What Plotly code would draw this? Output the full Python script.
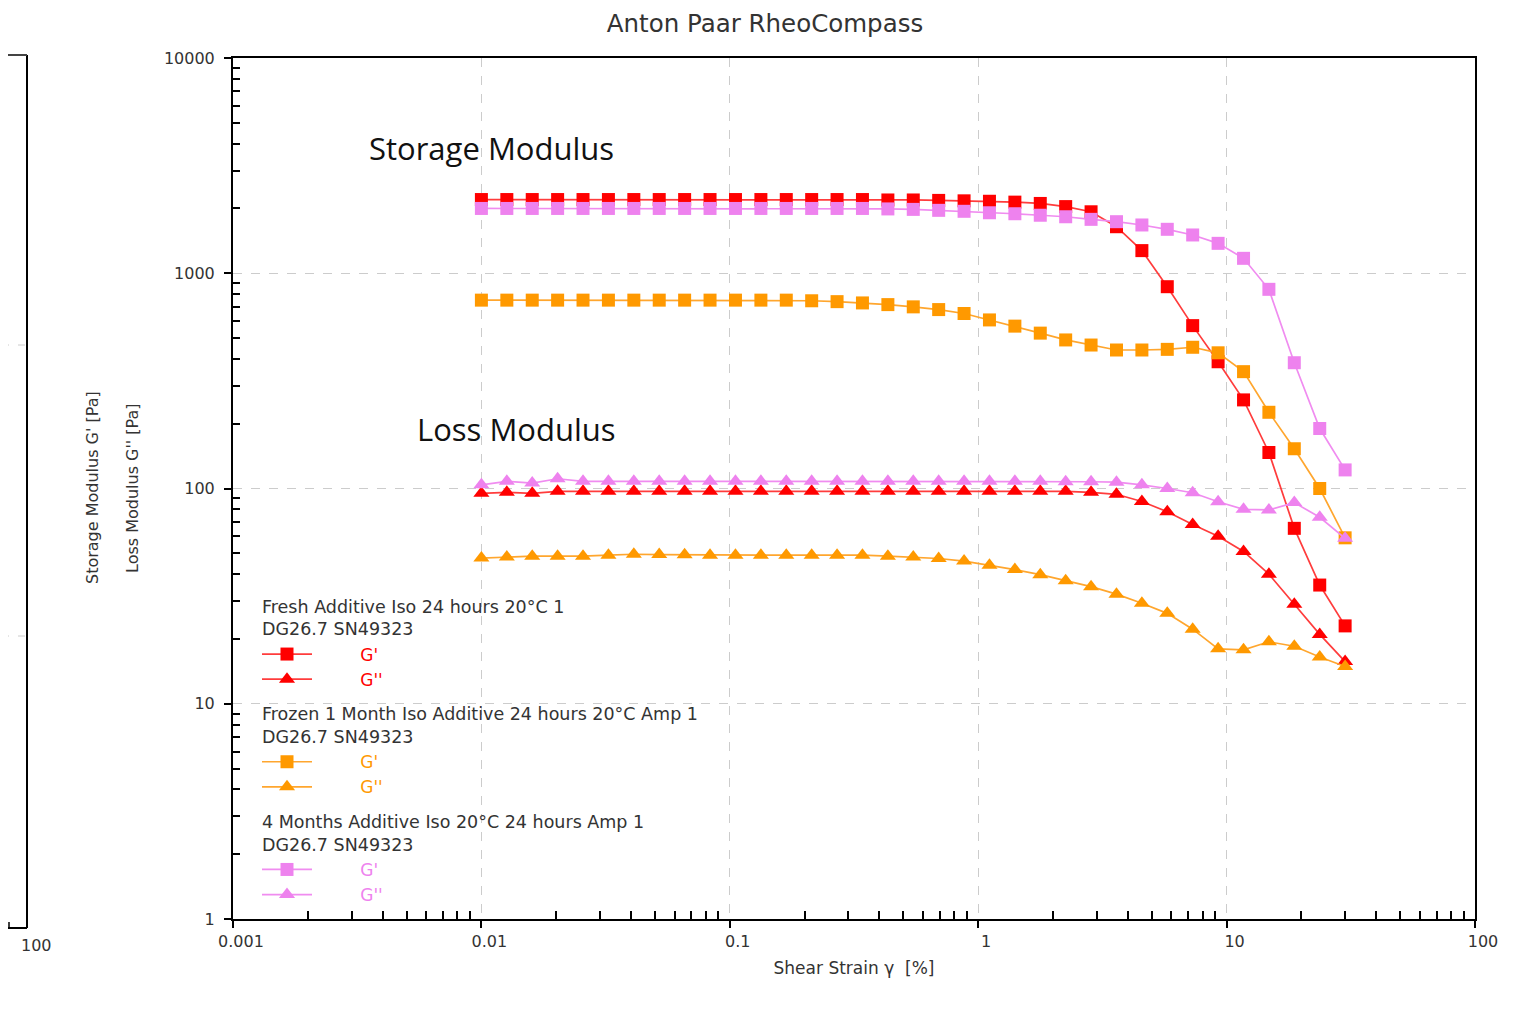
import plotly.graph_objects as go

# ---------------- data ----------------
strain = [0.01, 0.01266, 0.01602, 0.02027, 0.02565, 0.03246, 0.04108, 0.05199, 0.06579, 0.08326,
          0.1054, 0.1334, 0.1688, 0.2136, 0.2703, 0.342, 0.4329, 0.5478, 0.6932, 0.8772,
          1.11, 1.405, 1.778, 2.25, 2.847, 3.603, 4.56, 5.77, 7.302, 9.243,
          11.7, 14.8, 18.73, 23.71, 30.0]

fresh_gp = [2200, 2200, 2200, 2200, 2200, 2200, 2200, 2200, 2200, 2200,
            2200, 2200, 2200, 2200, 2200, 2200, 2190, 2190, 2180, 2170,
            2160, 2140, 2110, 2040, 1930, 1645, 1274, 866, 571, 388,
            258, 147, 65.3, 35.6, 23.0]
fresh_gpp = [95, 96, 95, 97, 97, 97, 97, 97, 97, 97,
             97, 97, 97, 97, 97, 97, 97, 97, 97, 97,
             97, 97, 97, 97, 96, 94, 87, 78, 68, 60,
             51, 40, 29, 21, 15.7]

frozen_gp = [750, 750, 750, 750, 750, 750, 750, 750, 750, 750,
             750, 750, 750, 745, 738, 728, 715, 698, 678, 650,
             607, 568, 527, 490, 464, 440, 440, 443, 453, 427,
             349, 226, 153, 100, 59]
frozen_gpp = [47.5, 48, 48.5, 48.5, 48.5, 49, 49.5, 49.3, 49.2, 49,
              49, 49, 49, 49, 49, 49, 48.5, 48, 47.3, 46,
              44, 42, 39.8, 37.3, 35.0, 32.3, 29.3, 26.3, 22.2, 18.0,
              17.8, 19.4, 18.5, 16.5, 14.9]

m4_gp = [2000, 2000, 2000, 2000, 2000, 2000, 2000, 2000, 2000, 2000,
         2000, 2000, 2000, 2000, 2000, 2000, 1990, 1980, 1960, 1940,
         1910, 1890, 1860, 1830, 1780, 1736, 1676, 1600, 1506, 1377,
         1173, 842, 384, 190, 122]
m4_gpp = [104, 108, 106, 111, 108, 108, 108, 108, 108, 108,
          108, 108, 108, 108, 108, 108, 108, 108, 108, 108,
          108, 108, 108, 107.5, 107.5, 107, 104, 100, 95.6, 86.8,
          80, 79.5, 86, 73.5, 58.7]

groups = [
    ("Fresh Additive Iso 24 hours 20°C 1", "#FF0000", "#FF3C3C", fresh_gp, fresh_gpp),
    ("Frozen 1 Month Iso Additive 24 hours 20°C Amp 1", "#FF9900", "#FFA62E", frozen_gp, frozen_gpp),
    ("4 Months Additive Iso 20°C 24 hours Amp 1", "#EE82EE", "#F08CF0", m4_gp, m4_gpp),
]
device = "DG26.7 SN49323"

x_ticks = [0.001, 0.01, 0.1, 1, 10, 100]
x_ticktext = ["0.001", "0.01", "0.1", "1", "10", "100"]
y_ticks = [1, 10, 100, 1000, 10000]
y_ticktext = ["1", "10", "100", "1000", "10000"]

FONT = "DejaVu Sans"
TXT = "#333333"

fig = go.Figure()
pad = "\u00a0" * 8
for i, (name, col, lcol, gp, gpp) in enumerate(groups):
    for j, (vals, sym, lab) in enumerate([(gp, "square", "G'"), (gpp, "triangle-up", "G''")]):
        fig.add_trace(go.Scatter(
            x=strain, y=vals, mode="lines+markers",
            line=dict(color=lcol, width=1.7),
            marker=dict(symbol=sym, size=13 if sym == "square" else 14, color=col, line=dict(width=0)),
            name=pad + f"<span style='color:{col}'>{lab}</span>",
            legendgroup=f"g{i}",
            legendgrouptitle=dict(text=f"{name}<br>{device}",
                                  font=dict(family=FONT, size=17.5, color=TXT)) if j == 0 else None,
            hoverinfo="x+y",
        ))

minor_x = [m * 10 ** e for e in range(-3, 2) for m in range(2, 10)]
minor_y = [m * 10 ** e for e in range(0, 4) for m in range(2, 10)]

axis_common = dict(
    showline=True, linewidth=2, linecolor="black", mirror=True,
    showgrid=True, gridcolor="#cccccc", griddash="dash", gridwidth=1,
    ticks="outside", ticklen=7, tickwidth=1.5, tickcolor="black",
    tickfont=dict(family=FONT, size=16, color=TXT),
    zeroline=False,
)

fig.update_xaxes(type="log", range=[-3, 2], tickmode="array", tickvals=x_ticks, ticktext=x_ticktext,
                 ticklabelshift=8, ticklabelstandoff=0,
                 minor=dict(tickmode="array", tickvals=minor_x, ticks="inside", ticklen=8,
                            tickwidth=1.5, tickcolor="black", showgrid=False),
                 title=dict(text="Shear Strain γ  [%]", font=dict(family=FONT, size=17, color=TXT), standoff=12),
                 **axis_common)
fig.update_yaxes(type="log", range=[0, 4], tickmode="array", tickvals=y_ticks, ticktext=y_ticktext,
                 ticklabelstandoff=6,
                 minor=dict(tickmode="array", tickvals=minor_y, ticks="inside", ticklen=7,
                            tickwidth=1.5, tickcolor="black", showgrid=False),
                 **axis_common)

# page body has an 8px margin; work in page pixel coordinates
OFF = 8
W, H = 1514, 1002
L, T = 233 - OFF, 58 - OFF
R = W - (1475 - OFF)
B = H - (919 - OFF)
pw, ph = W - L - R, H - T - B


def px(xp):
    return (xp - OFF - L) / pw


def py(yp):
    return (H - B - (yp - OFF)) / ph


annotations = [
    dict(text="Storage Modulus", x=px(367), y=py(148), xanchor="left", yanchor="middle",
         font=dict(family="Open Sans", size=31, color="#111111")),
    dict(text="Loss Modulus", x=px(415), y=py(429), xanchor="left", yanchor="middle",
         font=dict(family="Open Sans", size=31, color="#111111")),
    dict(text="Storage Modulus G' [Pa]", x=px(92), y=py(488), textangle=-90, xanchor="center", yanchor="middle",
         font=dict(family=FONT, size=16, color=TXT)),
    dict(text="Loss Modulus G'' [Pa]", x=px(132), y=py(488), textangle=-90, xanchor="center", yanchor="middle",
         font=dict(family=FONT, size=16, color=TXT)),
    dict(text="100", x=px(36), y=py(945), xanchor="center", yanchor="middle",
         font=dict(family=FONT, size=16, color=TXT)),
]
for a in annotations:
    a.update(xref="paper", yref="paper", showarrow=False)

shapes = [
    dict(type="line", x0=px(27), x1=px(27), y0=py(55), y1=py(928), line=dict(color="black", width=2)),
    dict(type="line", x0=px(0), x1=px(27), y0=py(55), y1=py(55), line=dict(color="#444", width=2)),
    dict(type="line", x0=px(0), x1=px(27), y0=py(928), y1=py(928), line=dict(color="black", width=2)),
    dict(type="line", x0=px(0), x1=px(25), y0=py(345), y1=py(345), line=dict(color="#cccccc", width=1, dash="dash")),
    dict(type="line", x0=px(0), x1=px(25), y0=py(636), y1=py(636), line=dict(color="#cccccc", width=1, dash="dash")),
    dict(type="line", x0=px(9), x1=px(9), y0=py(928), y1=py(922), line=dict(color="black", width=1.5)),
]
for s in shapes:
    s.update(xref="paper", yref="paper")

fig.update_layout(
    width=W, height=H,
    margin=dict(l=L, r=R, t=T, b=B),
    paper_bgcolor="white", plot_bgcolor="white",
    title=dict(text="Anton Paar RheoCompass", x=(765 - OFF) / W, xanchor="center", xref="container",
               y=1 - (23 - OFF) / H, yanchor="middle",
               font=dict(family=FONT, size=24.5, color=TXT)),
    legend=dict(x=px(257), y=py(588), xanchor="left", yanchor="top",
                bgcolor="rgba(0,0,0,0)", borderwidth=0, itemwidth=50,
                font=dict(family=FONT, size=17, color=TXT), tracegroupgap=9),
    annotations=annotations, shapes=shapes,
    showlegend=True,
)

fig.write_html("out.html")
